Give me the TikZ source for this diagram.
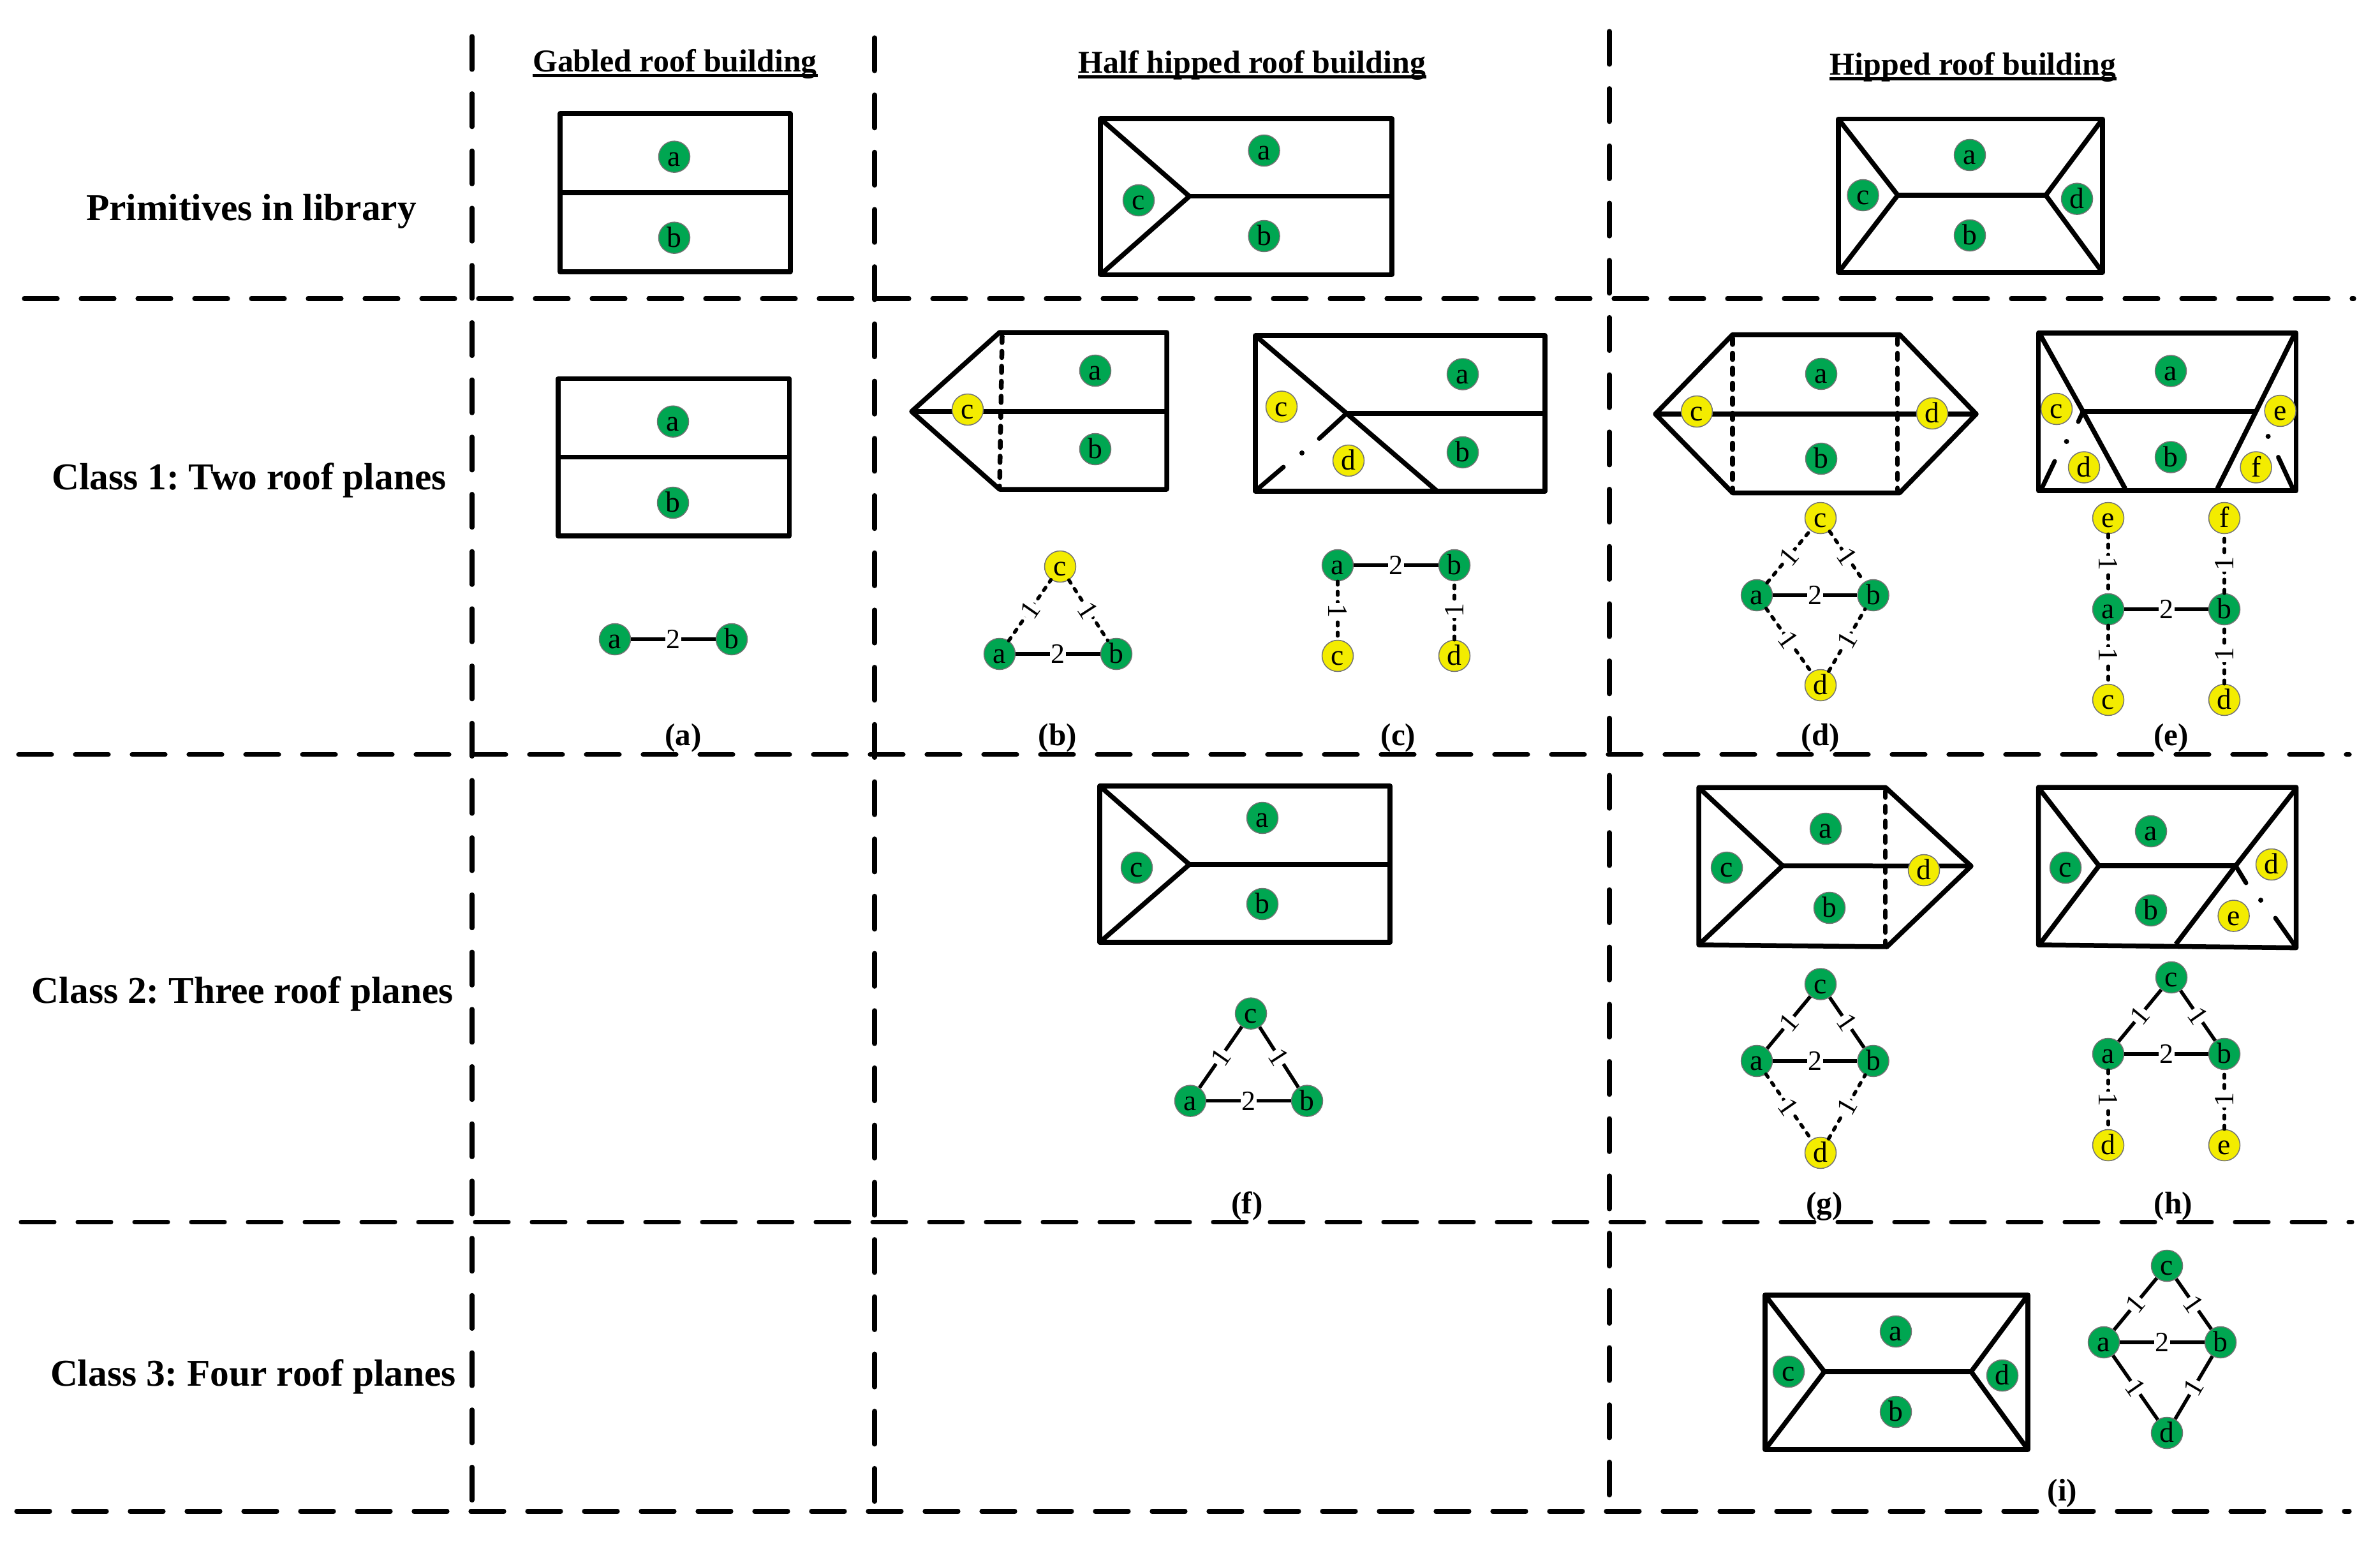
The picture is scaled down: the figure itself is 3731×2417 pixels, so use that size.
\documentclass[tikz,border=0pt]{standalone}
\usepackage{fontspec}
\setmainfont{Liberation Serif}
\usetikzlibrary{positioning}
\frenchspacing

\definecolor{planegreen}{RGB}{0,166,81}
\definecolor{planeyellow}{RGB}{243,236,0}

\begin{document}
\begin{tikzpicture}[
	x = .1mm, y = -.1mm, % one unit is one pixel of the picture
	on grid,
	griddash/.style={line width=.72mm, line cap=round, dash pattern=on 5.2mm off 3.7mm},
	griddashv/.style={line width=.72mm, line cap=round, dash pattern=on 5.2mm off 3.77mm},
	roof/.style={line width=.75mm, line join=round},
	roofdash/.style={line width=.75mm, line cap=round, dash pattern=on 1mm off 1.35mm},
	roofgap/.style={line width=.7mm, line cap=round},
	G/.style={circle, draw=black!55, line width=.15mm, fill=planegreen, inner sep=0pt, minimum size=4.9mm, text height=2.9mm, text depth=0pt, font=\fontsize{13}{15}\selectfont},
	Y/.style={G, fill=planeyellow},
	W/.style={fill=white, inner sep=.15mm, font=\fontsize{12.5}{14}\selectfont},
	E/.style={line width=.55mm},
	D/.style={line width=.55mm, line cap=round, dash pattern=on .55mm off 1.05mm},
	head/.style={anchor=base, inner sep=0pt, font=\fontsize{14.2}{16}\bfseries},
	rowlbl/.style={anchor=base, inner sep=0pt, font=\fontsize{16.9}{20}\bfseries},
	panel/.style={anchor=base, inner sep=0pt, font=\fontsize{14}{16}\bfseries},
	hline/.style={line width=.5mm},
	]
	\useasboundingbox (0,0) rectangle (3731,2417);

	% Table grid
	\draw[griddash] (38,468) -- (3690,468);
	\draw[griddash] (29,1182.5) -- (3683,1182.5);
	\draw[griddash] (33,1915.6) -- (3687,1915.6);
	\draw[griddash] (26,2369) -- (3683,2369);
	\draw[griddashv] (740,57) -- (740,2353);
	\draw[griddashv] (1371,59) -- (1371,2357);
	\draw[griddashv] (2523,49) -- (2523,2346);

	% Column and row titles
	\node[head] (gabled) at (1058,113) {Gabled roof building};
	\node[head] (halfhip) at (1963,115) {Half hipped roof building};
	\node[head] (hipped) at (3093,117.7) {Hipped roof building};
	\draw[hline] ([yshift=-.6mm]gabled.base west) -- ([yshift=-.6mm]gabled.base east);
	\draw[hline] ([yshift=-.6mm]halfhip.base west) -- ([yshift=-.6mm]halfhip.base east);
	\draw[hline] ([yshift=-.55mm]hipped.base west) -- ([yshift=-.55mm]hipped.base east);
	\node[rowlbl] (prim) at (394,345) {Primitives in library};
	\node[rowlbl] (cls1) at (390.5,767.7) {Class 1: Two roof planes};
	\node[rowlbl] (cls2) at (380.5,1572) {Class 2: Three roof planes};
	\node[rowlbl] (cls3) at (397,2172) {Class 3: Four roof planes};

	% Primitives
	\draw[roof] (878,178) rectangle (1239,426);
	\draw[roof] (878,302) -- (1239,302);
	\node[G] (aP1) at (1057,245.7) {a};
	\node[G] (bP1) at (1057,372.7) {b};

	\draw[roof] (1725,186) rectangle (2182,430.7);
	\draw[roof] (1725,186) -- (1864.5,307.7) -- (1725,430.7);
	\draw[roof] (1864.5,307.7) -- (2182,307.7);
	\node[G] (aP2) at (1981.6,236) {a};
	\node[G] (bP2) at (1981.6,370) {b};
	\node[G] (cP2) at (1785,314) {c};

	\draw[roof] (2882,186.7) rectangle (3296,427);
	\draw[roof] (2882,186.7) -- (2975,306) -- (2882,427);
	\draw[roof] (3296,186.7) -- (3207,306) -- (3296,427);
	\draw[roof] (2975,306) -- (3207,306);
	\node[G] (aP3) at (3088,243) {a};
	\node[G] (bP3) at (3088,369) {b};
	\node[G] (cP3) at (2920.5,306) {c};
	\node[G] (dP3) at (3256,311.7) {d};

	% Panel a
	\draw[roof] (875,593.7) rectangle (1237.5,839.8);
	\draw[roof] (875,716.7) -- (1237.5,716.7);
	\node[G] (aRa) at (1055,660.7) {a};
	\node[G] (bRa) at (1055,788) {b};
	\node[G] (aGa) at (964,1002) {a};
	\node[G] (bGa) [right = 18.3mm of aGa] {b};
	\path[E] (aGa) edge node[W] {2} (bGa);
	\node[panel] (lbla) at (1071,1168) {(a)};

	% Panel b
	\draw[roof] (1429,645) -- (1567,521) -- (1829,521) -- (1829,767) -- (1567,767) -- cycle;
	\draw[roof] (1429,645) -- (1829,645);
	\draw[roofdash] (1571,527) -- (1567,762);
	\node[Y] (cRb) at (1517,642) {c};
	\node[G] (aRb) at (1717,581) {a};
	\node[G] (bRb) at (1717,704) {b};
	\node[G] (aGb) at (1567,1025) {a};
	\node[G] (bGb) [right = 18.3mm of aGb] {b};
	\node[Y] (cGb) [above right = 13.7mm and 9.5mm of aGb] {c};
	\path[E] (aGb) edge node[W] {2} (bGb);
	\path[D] (aGb) edge node[W, sloped] {1} (cGb);
	\path[D] (cGb) edge node[W, sloped] {1} (bGb);
	\node[panel] (lblb) at (1658,1168) {(b)};

	% Panel c
	\draw[roof] (1968,526) rectangle (2422,770);
	\draw[roof] (1968,526) -- (2111,648) -- (2253,770);
	\draw[roof] (2111,648) -- (2422,648);
	\draw[roofgap] (2111,648) -- (2068,687.5) (2012,732) -- (1971,767);
	\fill (2041,710) circle (.4mm);
	\node[Y] (cRc) at (2009,637.5) {c};
	\node[Y] (dRc) at (2114,722) {d};
	\node[G] (aRc) at (2293,586.5) {a};
	\node[G] (bRc) at (2293,709) {b};
	\node[G] (aGc) at (2097,886) {a};
	\node[G] (bGc) [right = 18.3mm of aGc] {b};
	\node[Y] (cGc) [below = 14.2mm of aGc] {c};
	\node[Y] (dGc) [below = 14.2mm of bGc] {d};
	\path[E] (aGc) edge node[W] {2} (bGc);
	\path[D] (aGc) edge node[W, sloped] {1} (cGc);
	\path[D] (dGc) edge node[W, sloped] {1} (bGc);
	\node[panel] (lblc) at (2192,1168) {(c)};

	% Panel d
	\draw[roof] (2595,649) -- (2716,524.5) -- (2978,524.5) -- (3098,649) -- (2978,772.5) -- (2716,772.5) -- cycle;
	\draw[roof] (2595,649) -- (3098,649);
	\draw[roofdash] (2716,530) -- (2716,768);
	\draw[roofdash] (2974.5,530) -- (2974.5,768);
	\node[Y] (cRd) at (2660,645) {c};
	\node[Y] (dRd) at (3029,648) {d};
	\node[G] (aRd) at (2855,586) {a};
	\node[G] (bRd) at (2855,719) {b};
	\node[G] (aGd) at (2754,933) {a};
	\node[G] (bGd) [right = 18.25mm of aGd] {b};
	\node[Y] (cGd) [above right = 12.1mm and 10mm of aGd] {c};
	\node[Y] (dGd) [below right = 14.1mm and 10mm of aGd] {d};
	\path[E] (aGd) edge node[W] {2} (bGd);
	\path[D] (aGd) edge node[W, sloped] {1} (cGd);
	\path[D] (cGd) edge node[W, sloped] {1} (bGd);
	\path[D] (aGd) edge node[W, sloped] {1} (dGd);
	\path[D] (dGd) edge node[W, sloped] {1} (bGd);
	\node[panel] (lbld) at (2854,1168) {(d)};

	% Panel e
	\draw[roof] (3195.5,522) rectangle (3599.6,769);
	\draw[roof] (3199,526) -- (3265.4,645) -- (3331.5,766);
	\draw[roof] (3597,524) -- (3536.6,645) -- (3476,766);
	\draw[roof] (3265.4,645) -- (3536.6,645);
	\draw[roofgap] (3265.4,645) -- (3258,661) (3221,723) -- (3201,765);
	\draw[roofgap] (3571.5,716.5) -- (3594,765);
	\fill (3239.6,692) circle (.4mm);
	\fill (3555.6,684) circle (.4mm);
	\node[Y] (cRe) at (3224,641) {c};
	\node[Y] (eRe) at (3574.6,644) {e};
	\node[Y] (dRe) at (3267,732.5) {d};
	\node[Y] (fRe) at (3536.6,732.5) {f};
	\node[G] (aRe) at (3403,581.5) {a};
	\node[G] (bRe) at (3403,716.5) {b};
	\node[G] (aGe) at (3305,955) {a};
	\node[G] (bGe) [right = 18.2mm of aGe] {b};
	\node[Y] (eGe) [above = 14.3mm of aGe] {e};
	\node[Y] (fGe) [above = 14.3mm of bGe] {f};
	\node[Y] (cGe) [below = 14.2mm of aGe] {c};
	\node[Y] (dGe) [below = 14.2mm of bGe] {d};
	\path[E] (aGe) edge node[W] {2} (bGe);
	\path[D] (eGe) edge node[W, sloped] {1} (aGe);
	\path[D] (bGe) edge node[W, sloped] {1} (fGe);
	\path[D] (aGe) edge node[W, sloped] {1} (cGe);
	\path[D] (dGe) edge node[W, sloped] {1} (bGe);
	\node[panel] (lble) at (3403.6,1168) {(e)};

	% Panel f
	\draw[roof] (1724,1232) rectangle (2179,1477);
	\draw[roof] (1724,1232) -- (1864.5,1355) -- (1724,1477);
	\draw[roof] (1864.5,1355) -- (2179,1355);
	\node[G] (aRf) at (1979,1282) {a};
	\node[G] (bRf) at (1979,1417) {b};
	\node[G] (cRf) at (1782,1360) {c};
	\node[G] (aGf) at (1866,1725.6) {a};
	\node[G] (bGf) [right = 18.3mm of aGf] {b};
	\node[G] (cGf) [above right = 13.7mm and 9.5mm of aGf] {c};
	\path[E] (aGf) edge node[W] {2} (bGf);
	\path[E] (aGf) edge node[W, sloped] {1} (cGf);
	\path[E] (cGf) edge node[W, sloped] {1} (bGf);
	\node[panel] (lblf) at (1955,1902) {(f)};

	% Panel g
	\draw[roof] (2663,1234.4) -- (2956,1234.4) -- (3090,1357.5) -- (2958,1484) -- (2663,1481) -- cycle;
	\draw[roof] (2663,1234.4) -- (2794.5,1357) -- (2663,1481);
	\draw[roof] (2794.5,1357) -- (3090,1357.5);
	\draw[roofdash] (2955.5,1240) -- (2955.5,1480);
	\node[G] (aRg) at (2862,1299) {a};
	\node[G] (bRg) at (2868,1423) {b};
	\node[G] (cRg) at (2707,1360) {c};
	\node[Y] (dRg) at (3016,1364) {d};
	\node[G] (aGg) at (2754,1663) {a};
	\node[G] (bGg) [right = 18.25mm of aGg] {b};
	\node[G] (cGg) [above right = 12.05mm and 10mm of aGg] {c};
	\node[Y] (dGg) [below right = 14.4mm and 10mm of aGg] {d};
	\path[E] (aGg) edge node[W] {2} (bGg);
	\path[E] (aGg) edge node[W, sloped] {1} (cGg);
	\path[E] (cGg) edge node[W, sloped] {1} (bGg);
	\path[D] (aGg) edge node[W, sloped] {1} (dGg);
	\path[D] (dGg) edge node[W, sloped] {1} (bGg);
	\node[panel] (lblg) at (2860,1902) {(g)};

	% Panel h
	\draw[roof] (3195.5,1234) -- (3599.6,1234) -- (3599.6,1485.6) -- (3195.5,1481) -- cycle;
	\draw[roof] (3199,1239) -- (3290.5,1357) -- (3199,1478);
	\draw[roof] (3290.5,1357) -- (3504.7,1357);
	\draw[roof] (3597,1239) -- (3504.7,1357) -- (3411,1480);
	\draw[roofgap] (3504.7,1357) -- (3521,1384) (3567,1439) -- (3596,1480);
	\fill (3544,1411) circle (.4mm);
	\node[G] (aRh) at (3372,1303) {a};
	\node[G] (bRh) at (3372,1427) {b};
	\node[G] (cRh) at (3238,1360) {c};
	\node[Y] (dRh) at (3561,1355) {d};
	\node[Y] (eRh) at (3501.6,1435.5) {e};
	\node[G] (aGh) at (3305,1652) {a};
	\node[G] (bGh) [right = 18.2mm of aGh] {b};
	\node[G] (cGh) [above right = 12mm and 9.9mm of aGh] {c};
	\node[Y] (dGh) [below = 14.3mm of aGh] {d};
	\node[Y] (eGh) [below = 14.3mm of bGh] {e};
	\path[E] (aGh) edge node[W] {2} (bGh);
	\path[E] (aGh) edge node[W, sloped] {1} (cGh);
	\path[E] (cGh) edge node[W, sloped] {1} (bGh);
	\path[D] (aGh) edge node[W, sloped] {1} (dGh);
	\path[D] (eGh) edge node[W, sloped] {1} (bGh);
	\node[panel] (lblh) at (3406.7,1902) {(h)};

	% Panel i
	\draw[roof] (2767,2030) rectangle (3179,2272);
	\draw[roof] (2767,2030) -- (2860,2150) -- (2767,2272);
	\draw[roof] (3179,2030) -- (3090,2150) -- (3179,2272);
	\draw[roof] (2860,2150) -- (3090,2150);
	\node[G] (aRi) at (2972,2087) {a};
	\node[G] (bRi) at (2972,2213) {b};
	\node[G] (cRi) at (2804,2150) {c};
	\node[G] (dRi) at (3139,2156) {d};
	\node[G] (aGi) at (3298,2104) {a};
	\node[G] (bGi) [right = 18.3mm of aGi] {b};
	\node[G] (cGi) [above right = 12mm and 9.9mm of aGi] {c};
	\node[G] (dGi) [below right = 14.2mm and 9.9mm of aGi] {d};
	\path[E] (aGi) edge node[W] {2} (bGi);
	\path[E] (aGi) edge node[W, sloped] {1} (cGi);
	\path[E] (cGi) edge node[W, sloped] {1} (bGi);
	\path[E] (aGi) edge node[W, sloped] {1} (dGi);
	\path[E] (dGi) edge node[W, sloped] {1} (bGi);
	\node[panel] (lbli) at (3233,2352) {(i)};

\end{tikzpicture}
\end{document}
